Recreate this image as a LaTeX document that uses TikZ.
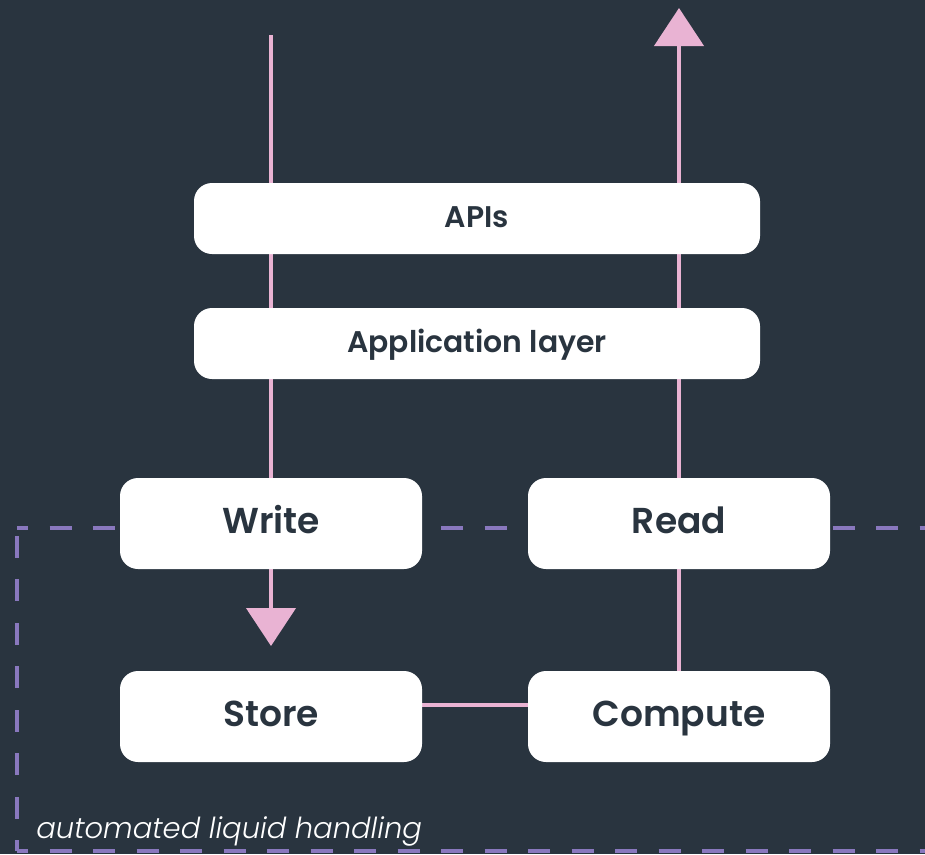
\documentclass[tikz,border=0pt]{standalone}
\usepackage{fontspec}
\setmainfont{Poppins}[BoldFont={* SemiBold}]
\newfontfamily\notefont{Poppins}[UprightFont={* Light Italic}]
\definecolor{SlateDark}{HTML}{29343F}
\definecolor{FlowPink}{HTML}{E9B3D3}
\definecolor{ZonePurple}{HTML}{8978BE}
\definecolor{BoxWhite}{HTML}{FFFFFF}
\usetikzlibrary{arrows.meta, backgrounds}
\tikzset{
    % White boxes with rounded corners
    layer box/.style={
        rectangle,
        rounded corners=0.36cm,
        draw=none,
        fill=BoxWhite,
        text=SlateDark,
        minimum width=11.32cm,
        minimum height=1.42cm,
        text height=10pt,
        text depth=0pt,
        font=\fontsize{17}{20}\selectfont\bfseries
    },
    step box/.style={
        layer box,
        minimum width=6.04cm,
        minimum height=1.82cm,
        text height=10.8pt,
        font=\fontsize{20.5}{24}\selectfont\bfseries
    },
    flow line/.style={
        draw=FlowPink,
        line width=0.09cm
    },
    flow arrow/.style={
        flow line,
        -{Triangle[width=0.98cm, length=0.76cm]}
    },
    zone line/.style={
        draw=ZonePurple,
        line width=0.09cm,
        dash pattern=on 0.44cm off 0.43cm,
        dash phase=0.22cm
    }
}
\begin{document}
\begin{tikzpicture}
    \useasboundingbox (0,0) rectangle (18.5,-17.08);
    \clip (0,0) rectangle (18.5,-17.08);

    \node[layer box] (apis) at (9.54, -4.37) {APIs};
    \node[layer box] (app) at (9.54, -6.87) {Application layer};
    \node[step box] (write) at (5.42, -10.47) {Write};
    \node[step box] (read) at (13.58, -10.47) {Read};
    \node[step box] (store) at (5.42, -14.33) {Store};
    \node[step box] (compute) at (13.58, -14.33) {Compute};

    \coordinate (infeed) at (5.42, -0.70);
    \coordinate (storetip) at (5.42, -12.92);
    \coordinate (outfeed) at (13.58, -0.16);

    % zone corners
    \coordinate (zonetl) at (0.34, -10.56);
    \coordinate (zonebl) at (0.34, -17.02);
    \coordinate (zonetr) at (19.2, -10.56);
    \coordinate (zonebr) at (19.2, -17.02);

    \begin{scope}[on background layer]
        \fill[SlateDark] (0,0) rectangle (18.5,-17.08);
        \draw[flow line] (infeed) -- (write.north);
        \draw[flow arrow] (write.south) -- (storetip);
        \draw[flow arrow] (compute.north) -- (outfeed);
        \draw[flow line] ([yshift=0.23cm]store.east) -- ([yshift=0.23cm]compute.west);
        \draw[zone line] (zonetl) -- (zonetr);
        \draw[zone line] (zonebl) -- (zonetl);
        \draw[zone line] (zonebl) -- (zonebr);
    \end{scope}

    \node[anchor=base west, inner sep=0pt, text=BoxWhite, font=\notefont\fontsize{16.5}{19}\selectfont] (zonelabel) at (0.72, -16.76) {automated liquid handling};
\end{tikzpicture}
\end{document}
